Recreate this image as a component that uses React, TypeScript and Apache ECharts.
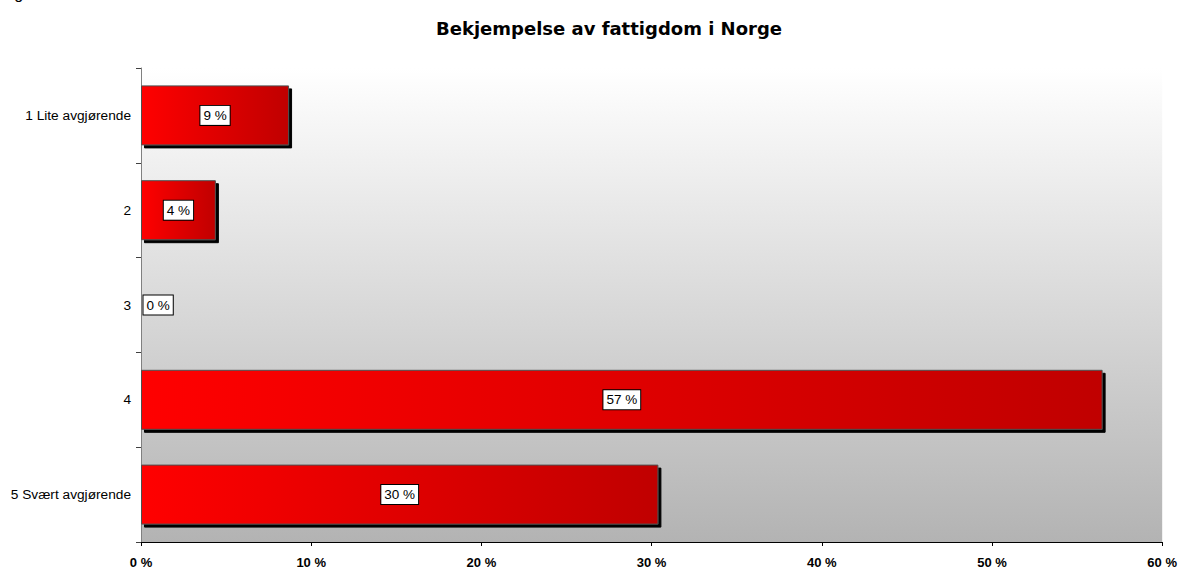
import React, { useEffect, useRef } from "react";
import * as echarts from "echarts";

const categories = ["1 Lite avgjørende", "2", "3", "4", "5 Svært avgjørende"];
const values = [8.7, 4.4, 0, 56.5, 30.4];
const xTicks = [0, 10, 20, 30, 40, 50, 60];
const titleText = "Bekjempelse av fattigdom i Norge";

export default function App() {
  const ref = useRef<HTMLDivElement>(null);
  useEffect(() => {
    if (!ref.current) return;
    const chart = echarts.init(ref.current, null, { renderer: "svg" });
    const barGradient = new echarts.graphic.LinearGradient(0, 0, 1, 0, [
      { offset: 0, color: "#ff0000" },
      { offset: 1, color: "#c00000" },
    ]);
    chart.setOption({
      animation: false,
      backgroundColor: "#ffffff",
      title: {
        text: titleText,
        left: 604,
        textAlign: "center",
        top: 14,
        textStyle: {
          fontFamily: "DejaVu Sans",
          fontWeight: "bold",
          fontSize: 18,
          color: "#000",
        },
      },
      graphic: [
        {
          type: "text",
          left: 1,
          top: -15,
          style: {
            text: "Figur 5",
            font: "16px 'Liberation Sans', Arial, sans-serif",
            fill: "#000",
          },
        },
      ],
      grid: {
        left: 141,
        right: 17,
        top: 68,
        bottom: 28,
        show: true,
        borderWidth: 0,
        backgroundColor: new echarts.graphic.LinearGradient(0, 0, 0, 1, [
          { offset: 0, color: "#ffffff" },
          { offset: 1, color: "#b3b3b3" },
        ]),
      },
      xAxis: {
        type: "value",
        min: xTicks[0],
        max: xTicks[xTicks.length - 1],
        interval: 10,
        splitLine: { show: false },
        axisLine: { show: true, lineStyle: { color: "#000", width: 1 } },
        axisTick: { show: true, length: 4, lineStyle: { color: "#000" } },
        axisLabel: {
          formatter: "{value} %",
          fontFamily: "'Liberation Sans', Arial, sans-serif",
          fontWeight: "bold",
          fontSize: 13,
          color: "#000",
          margin: 14,
        },
      },
      yAxis: {
        type: "category",
        data: categories,
        inverse: true,
        axisLine: { show: true, lineStyle: { color: "#808080", width: 1 } },
        axisTick: { show: true, length: 5, lineStyle: { color: "#404040" } },
        axisLabel: {
          fontFamily: "'Liberation Sans', Arial, sans-serif",
          fontSize: 13.7,
          color: "#000",
          margin: 10,
        },
      },
      series: [
        {
          type: "bar",
          barWidth: 60,
          data: values.map((v) =>
            v === 0
              ? { value: v, label: { position: "right", distance: 2 } }
              : { value: v }
          ),
          itemStyle: {
            color: barGradient,
            borderColor: "#505050",
            borderWidth: 1,
            shadowColor: "#000",
            shadowBlur: 0,
            shadowOffsetX: 3,
            shadowOffsetY: 3,
          },
          label: {
            show: true,
            position: "inside",
            formatter: (p: any) => Math.round(p.value) + " %",
            fontFamily: "'Liberation Sans', Arial, sans-serif",
            fontSize: 13.5,
            color: "#000",
            backgroundColor: "#fff",
            borderColor: "#000",
            borderWidth: 1,
            padding: [3, 3, 2, 3],
          },
        },
      ],
    });
    return () => chart.dispose();
  }, []);
  return (
    <div
      ref={ref}
      style={{ position: "fixed", left: 0, top: 0, width: 1180, height: 570 }}
    />
  );
}
